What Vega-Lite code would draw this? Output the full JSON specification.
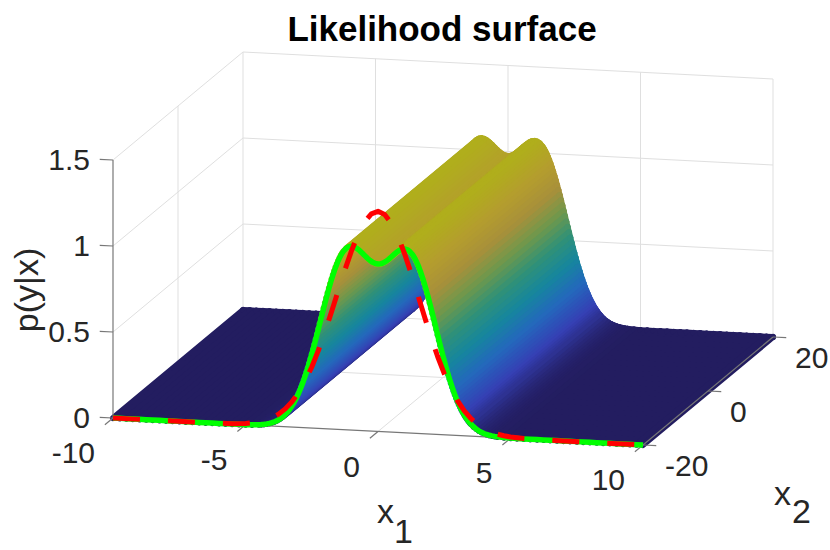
{
  "$schema": "https://vega.github.io/schema/vega-lite/v6.json",
  "width": 830,
  "height": 495,
  "padding": {"left": 0, "right": 0, "top": 55, "bottom": 0},
  "autosize": {"type": "none"},
  "title": {
    "text": "Likelihood surface",
    "font": "Liberation Sans",
    "fontSize": 35,
    "fontWeight": "bold",
    "color": "#000000",
    "anchor": "middle",
    "dx": 27,
    "offset": -24,
    "baseline": "alphabetic"
  },
  "config": {"view": {"stroke": null}, "text": {"font": "Liberation Sans", "color": "#262626"}},
  "datasets": {
    "surf": [
      {"x1": -10, "p": 0}, {"x1": -9.75, "p": 0}, {"x1": -9.5, "p": 0}, {"x1": -9.25, "p": 0},
      {"x1": -9, "p": 0}, {"x1": -8.75, "p": 0}, {"x1": -8.5, "p": 0}, {"x1": -8.25, "p": 0},
      {"x1": -8, "p": 0}, {"x1": -7.75, "p": 0}, {"x1": -7.5, "p": 0}, {"x1": -7.25, "p": 0},
      {"x1": -7, "p": 0}, {"x1": -6.75, "p": 0}, {"x1": -6.5, "p": 0}, {"x1": -6.25, "p": 0},
      {"x1": -6, "p": 0}, {"x1": -5.75, "p": 0}, {"x1": -5.5, "p": 0.0001}, {"x1": -5.25, "p": 0.0003},
      {"x1": -5, "p": 0.0007}, {"x1": -4.75, "p": 0.0018},
      {"x1": -4.5, "p": 0.0043}, {"x1": -4.4, "p": 0.006}, {"x1": -4.3, "p": 0.0082}, {"x1": -4.2, "p": 0.0111},
      {"x1": -4.1, "p": 0.0149}, {"x1": -4, "p": 0.0198}, {"x1": -3.9, "p": 0.0261}, {"x1": -3.8, "p": 0.0341},
      {"x1": -3.7, "p": 0.0439}, {"x1": -3.6, "p": 0.0561},
      {"x1": -3.5, "p": 0.071}, {"x1": -3.45, "p": 0.0796}, {"x1": -3.4, "p": 0.0889}, {"x1": -3.35, "p": 0.0992},
      {"x1": -3.3, "p": 0.1103}, {"x1": -3.25, "p": 0.1224}, {"x1": -3.2, "p": 0.1354}, {"x1": -3.15, "p": 0.1495},
      {"x1": -3.1, "p": 0.1646}, {"x1": -3.05, "p": 0.1808}, {"x1": -3, "p": 0.1981}, {"x1": -2.95, "p": 0.2165},
      {"x1": -2.9, "p": 0.236}, {"x1": -2.85, "p": 0.2566}, {"x1": -2.8, "p": 0.2784}, {"x1": -2.75, "p": 0.3012},
      {"x1": -2.7, "p": 0.3252}, {"x1": -2.65, "p": 0.3501}, {"x1": -2.6, "p": 0.376}, {"x1": -2.55, "p": 0.4029},
      {"x1": -2.5, "p": 0.4306}, {"x1": -2.45, "p": 0.4591}, {"x1": -2.4, "p": 0.4883}, {"x1": -2.35, "p": 0.518},
      {"x1": -2.3, "p": 0.5483}, {"x1": -2.25, "p": 0.5788}, {"x1": -2.2, "p": 0.6096}, {"x1": -2.15, "p": 0.6405},
      {"x1": -2.1, "p": 0.6713}, {"x1": -2.05, "p": 0.7019}, {"x1": -2, "p": 0.7321}, {"x1": -1.95, "p": 0.7618},
      {"x1": -1.9, "p": 0.7909}, {"x1": -1.85, "p": 0.8191}, {"x1": -1.8, "p": 0.8464}, {"x1": -1.75, "p": 0.8725},
      {"x1": -1.7, "p": 0.8974}, {"x1": -1.65, "p": 0.9209}, {"x1": -1.6, "p": 0.943}, {"x1": -1.55, "p": 0.9634},
      {"x1": -1.5, "p": 0.9821}, {"x1": -1.45, "p": 0.9991}, {"x1": -1.4, "p": 1.0143}, {"x1": -1.35, "p": 1.0275},
      {"x1": -1.3, "p": 1.039}, {"x1": -1.2, "p": 1.0561}, {"x1": -1.1, "p": 1.066}, {"x1": -1, "p": 1.0691},
      {"x1": -0.9, "p": 1.0663}, {"x1": -0.8, "p": 1.0585}, {"x1": -0.7, "p": 1.047}, {"x1": -0.6, "p": 1.0332},
      {"x1": -0.5, "p": 1.0185}, {"x1": -0.4, "p": 1.0042}, {"x1": -0.3, "p": 0.9916}, {"x1": -0.2, "p": 0.9818},
      {"x1": -0.1, "p": 0.9756}, {"x1": 0, "p": 0.9735},
      {"x1": 0.1, "p": 0.9756}, {"x1": 0.2, "p": 0.9818}, {"x1": 0.3, "p": 0.9916}, {"x1": 0.4, "p": 1.0042},
      {"x1": 0.5, "p": 1.0185}, {"x1": 0.6, "p": 1.0332}, {"x1": 0.7, "p": 1.047}, {"x1": 0.8, "p": 1.0585},
      {"x1": 0.9, "p": 1.0663}, {"x1": 1, "p": 1.0691}, {"x1": 1.1, "p": 1.066}, {"x1": 1.2, "p": 1.0561},
      {"x1": 1.3, "p": 1.039}, {"x1": 1.35, "p": 1.0275}, {"x1": 1.4, "p": 1.0143}, {"x1": 1.45, "p": 0.9991},
      {"x1": 1.5, "p": 0.9821}, {"x1": 1.55, "p": 0.9634}, {"x1": 1.6, "p": 0.943}, {"x1": 1.65, "p": 0.9209},
      {"x1": 1.7, "p": 0.8974}, {"x1": 1.75, "p": 0.8725}, {"x1": 1.8, "p": 0.8464}, {"x1": 1.85, "p": 0.8191},
      {"x1": 1.9, "p": 0.7909}, {"x1": 1.95, "p": 0.7618}, {"x1": 2, "p": 0.7321}, {"x1": 2.05, "p": 0.7019},
      {"x1": 2.1, "p": 0.6713}, {"x1": 2.15, "p": 0.6405}, {"x1": 2.2, "p": 0.6096}, {"x1": 2.25, "p": 0.5788},
      {"x1": 2.3, "p": 0.5483}, {"x1": 2.35, "p": 0.518}, {"x1": 2.4, "p": 0.4883}, {"x1": 2.45, "p": 0.4591},
      {"x1": 2.5, "p": 0.4306}, {"x1": 2.55, "p": 0.4029}, {"x1": 2.6, "p": 0.376}, {"x1": 2.65, "p": 0.3501},
      {"x1": 2.7, "p": 0.3252}, {"x1": 2.75, "p": 0.3012}, {"x1": 2.8, "p": 0.2784}, {"x1": 2.85, "p": 0.2566},
      {"x1": 2.9, "p": 0.236}, {"x1": 2.95, "p": 0.2165}, {"x1": 3, "p": 0.1981}, {"x1": 3.05, "p": 0.1808},
      {"x1": 3.1, "p": 0.1646}, {"x1": 3.15, "p": 0.1495}, {"x1": 3.2, "p": 0.1354}, {"x1": 3.25, "p": 0.1224},
      {"x1": 3.3, "p": 0.1103}, {"x1": 3.35, "p": 0.0992}, {"x1": 3.4, "p": 0.0889}, {"x1": 3.45, "p": 0.0796},
      {"x1": 3.5, "p": 0.071},
      {"x1": 3.6, "p": 0.0561}, {"x1": 3.7, "p": 0.0439}, {"x1": 3.8, "p": 0.0341}, {"x1": 3.9, "p": 0.0261},
      {"x1": 4, "p": 0.0198}, {"x1": 4.1, "p": 0.0149}, {"x1": 4.2, "p": 0.0111}, {"x1": 4.3, "p": 0.0082},
      {"x1": 4.4, "p": 0.006}, {"x1": 4.5, "p": 0.0043},
      {"x1": 4.75, "p": 0.0018}, {"x1": 5, "p": 0.0007}, {"x1": 5.25, "p": 0.0003}, {"x1": 5.5, "p": 0.0001},
      {"x1": 5.75, "p": 0}, {"x1": 6, "p": 0}, {"x1": 6.25, "p": 0}, {"x1": 6.5, "p": 0},
      {"x1": 6.75, "p": 0}, {"x1": 7, "p": 0}, {"x1": 7.25, "p": 0}, {"x1": 7.5, "p": 0},
      {"x1": 7.75, "p": 0}, {"x1": 8, "p": 0}, {"x1": 8.25, "p": 0}, {"x1": 8.5, "p": 0},
      {"x1": 8.75, "p": 0}, {"x1": 9, "p": 0}, {"x1": 9.25, "p": 0}, {"x1": 9.5, "p": 0},
      {"x1": 9.75, "p": 0}, {"x1": 10, "p": 0}
    ],
    "gauss": [
      {"x1": -10, "p": 0}, {"x1": -7, "p": 0}, {"x1": -6, "p": 0.0008}, {"x1": -5.5, "p": 0.0026},
      {"x1": -5, "p": 0.0076}, {"x1": -4.75, "p": 0.0126}, {"x1": -4.5, "p": 0.0202}, {"x1": -4.25, "p": 0.0316},
      {"x1": -4, "p": 0.0482}, {"x1": -3.75, "p": 0.0717}, {"x1": -3.5, "p": 0.104}, {"x1": -3.25, "p": 0.1469},
      {"x1": -3, "p": 0.2024}, {"x1": -2.75, "p": 0.2718}, {"x1": -2.5, "p": 0.3556}, {"x1": -2.25, "p": 0.4536},
      {"x1": -2, "p": 0.564}, {"x1": -1.75, "p": 0.6834}, {"x1": -1.5, "p": 0.8072}, {"x1": -1.25, "p": 0.9293},
      {"x1": -1, "p": 1.0428}, {"x1": -0.75, "p": 1.1406}, {"x1": -0.5, "p": 1.2161}, {"x1": -0.25, "p": 1.2637},
      {"x1": 0, "p": 1.28},
      {"x1": 0.25, "p": 1.2637}, {"x1": 0.5, "p": 1.2161}, {"x1": 0.75, "p": 1.1406}, {"x1": 1, "p": 1.0428},
      {"x1": 1.25, "p": 0.9293}, {"x1": 1.5, "p": 0.8072}, {"x1": 1.75, "p": 0.6834}, {"x1": 2, "p": 0.564},
      {"x1": 2.25, "p": 0.4536}, {"x1": 2.5, "p": 0.3556}, {"x1": 2.75, "p": 0.2718}, {"x1": 3, "p": 0.2024},
      {"x1": 3.25, "p": 0.1469}, {"x1": 3.5, "p": 0.104}, {"x1": 3.75, "p": 0.0717}, {"x1": 4, "p": 0.0482},
      {"x1": 4.25, "p": 0.0316}, {"x1": 4.5, "p": 0.0202}, {"x1": 4.75, "p": 0.0126}, {"x1": 5, "p": 0.0076},
      {"x1": 5.5, "p": 0.0026}, {"x1": 6, "p": 0.0008}, {"x1": 7, "p": 0}, {"x1": 10, "p": 0}
    ],
    "grid": [
      {"a1": -10, "a2": 20, "az": 0, "b1": -10, "b2": 20, "bz": 1.5},
      {"a1": -5, "a2": 20, "az": 0, "b1": -5, "b2": 20, "bz": 1.5},
      {"a1": 0, "a2": 20, "az": 0, "b1": 0, "b2": 20, "bz": 1.5},
      {"a1": 5, "a2": 20, "az": 0, "b1": 5, "b2": 20, "bz": 1.5},
      {"a1": 10, "a2": 20, "az": 0, "b1": 10, "b2": 20, "bz": 1.5},
      {"a1": -10, "a2": 20, "az": 0.5, "b1": 10, "b2": 20, "bz": 0.5},
      {"a1": -10, "a2": 20, "az": 1, "b1": 10, "b2": 20, "bz": 1},
      {"a1": -10, "a2": 20, "az": 1.5, "b1": 10, "b2": 20, "bz": 1.5},
      {"a1": -10, "a2": 0, "az": 0, "b1": -10, "b2": 0, "bz": 1.5},
      {"a1": -10, "a2": -20, "az": 0.5, "b1": -10, "b2": 20, "bz": 0.5},
      {"a1": -10, "a2": -20, "az": 1, "b1": -10, "b2": 20, "bz": 1},
      {"a1": -10, "a2": -20, "az": 1.5, "b1": -10, "b2": 20, "bz": 1.5},
      {"a1": -10, "a2": -20, "az": 0, "b1": -10, "b2": 20, "bz": 0},
      {"a1": -5, "a2": -20, "az": 0, "b1": -5, "b2": 20, "bz": 0},
      {"a1": 0, "a2": -20, "az": 0, "b1": 0, "b2": 20, "bz": 0},
      {"a1": 5, "a2": -20, "az": 0, "b1": 5, "b2": 20, "bz": 0},
      {"a1": -10, "a2": 0, "az": 0, "b1": 10, "b2": 0, "bz": 0},
      {"a1": -10, "a2": 20, "az": 0, "b1": 10, "b2": 20, "bz": 0}
    ],
    "axes": [
      {"a1": -10, "a2": -20, "az": 0, "b1": 10, "b2": -20, "bz": 0},
      {"a1": 10, "a2": -20, "az": 0, "b1": 10, "b2": 20, "bz": 0},
      {"a1": -10, "a2": -20, "az": 0, "b1": -10, "b2": -20, "bz": 1.5},
      {"a1": -10, "a2": -20, "az": 0, "b1": -10, "b2": -22.5, "bz": 0},
      {"a1": -5, "a2": -20, "az": 0, "b1": -5, "b2": -22.5, "bz": 0},
      {"a1": 0, "a2": -20, "az": 0, "b1": 0, "b2": -22.5, "bz": 0},
      {"a1": 5, "a2": -20, "az": 0, "b1": 5, "b2": -22.5, "bz": 0},
      {"a1": 10, "a2": -20, "az": 0, "b1": 10, "b2": -22.5, "bz": 0},
      {"a1": 10, "a2": -20, "az": 0, "b1": 10.5, "b2": -20, "bz": 0},
      {"a1": 10, "a2": 0, "az": 0, "b1": 10.5, "b2": 0, "bz": 0},
      {"a1": 10, "a2": 20, "az": 0, "b1": 10.5, "b2": 20, "bz": 0},
      {"a1": -10, "a2": -20, "az": 0, "b1": -10.5, "b2": -20, "bz": 0},
      {"a1": -10, "a2": -20, "az": 0.5, "b1": -10.5, "b2": -20, "bz": 0.5},
      {"a1": -10, "a2": -20, "az": 1, "b1": -10.5, "b2": -20, "bz": 1},
      {"a1": -10, "a2": -20, "az": 1.5, "b1": -10.5, "b2": -20, "bz": 1.5}
    ]
  },
  "encoding": {
    "x": {"field": "u", "type": "quantitative", "scale": {"domain": [0, 830], "nice": false, "zero": false}, "axis": null},
    "y": {"field": "v", "type": "quantitative", "scale": {"domain": [55, 550], "reverse": true, "nice": false, "zero": false}, "axis": null}
  },
  "layer": [
    {
      "data": {"name": "grid"},
      "transform": [
        {"calculate": "443 + 26.5*datum.a1 + 3.25*datum.a2", "as": "u"},
        {"calculate": "377.5 + 1.35*datum.a1 - 2.7*datum.a2 - 172*datum.az", "as": "v"},
        {"calculate": "443 + 26.5*datum.b1 + 3.25*datum.b2", "as": "u2"},
        {"calculate": "377.5 + 1.35*datum.b1 - 2.7*datum.b2 - 172*datum.bz", "as": "v2"}
      ],
      "mark": {"type": "rule", "color": "#dfdfdf", "strokeWidth": 1},
      "encoding": {"x2": {"field": "u2"}, "y2": {"field": "v2"}}
    },
    {
      "data": {"name": "surf"},
      "transform": [
        {"window": [{"op": "lead", "field": "x1", "as": "nx1"}, {"op": "lead", "field": "p", "as": "np"}]},
        {"calculate": "0", "as": "s"},
        {"calculate": "1", "as": "b"},
        {"fold": ["s", "b"]},
        {"filter": "datum.key == 's' || isValid(datum.nx1)"},
        {"calculate": "datum.key == 's' ? 443 + 26.5*datum.x1 + 3.25*(-20) : 443 + 26.5*datum.x1 + 3.25*20", "as": "u"},
        {"calculate": "datum.key == 's' ? 377.5 + 1.35*datum.x1 - 2.7*(-20) - 172*datum.p : 377.5 + 1.35*datum.x1 - 2.7*20 - 172*datum.p", "as": "v"},
        {"calculate": "datum.key == 's' ? 443 + 26.5*datum.x1 + 3.25*20 : 443 + 26.5*datum.nx1 + 3.25*20", "as": "u2"},
        {"calculate": "datum.key == 's' ? 377.5 + 1.35*datum.x1 - 2.7*20 - 172*datum.p : 377.5 + 1.35*datum.nx1 - 2.7*20 - 172*datum.np", "as": "v2"}
      ],
      "mark": {"type": "rule", "strokeWidth": 6, "strokeCap": "round"},
      "encoding": {
        "x2": {"field": "u2"},
        "y2": {"field": "v2"},
        "color": {
          "field": "p",
          "type": "quantitative",
          "legend": null,
          "scale": {
            "domain": [0, 0.119, 0.254, 0.39, 0.526, 0.662, 0.798, 0.933, 1.069],
            "range": ["#231d60", "#3540b4", "#2468bc", "#16869e", "#2f9178", "#6e984c", "#a8903a", "#b49d2e", "#b0ae1c"],
            "interpolate": "rgb"
          }
        }
      }
    },
    {
      "data": {"name": "axes"},
      "transform": [
        {"calculate": "443 + 26.5*datum.a1 + 3.25*datum.a2", "as": "u"},
        {"calculate": "377.5 + 1.35*datum.a1 - 2.7*datum.a2 - 172*datum.az", "as": "v"},
        {"calculate": "443 + 26.5*datum.b1 + 3.25*datum.b2", "as": "u2"},
        {"calculate": "377.5 + 1.35*datum.b1 - 2.7*datum.b2 - 172*datum.bz", "as": "v2"}
      ],
      "mark": {"type": "rule", "color": "#777777", "strokeWidth": 1.2},
      "encoding": {"x2": {"field": "u2"}, "y2": {"field": "v2"}}
    },
    {
      "data": {"name": "surf"},
      "transform": [
        {"calculate": "443 + 26.5*datum.x1 + 3.25*(-20)", "as": "u"},
        {"calculate": "377.5 + 1.35*datum.x1 - 2.7*(-20) - 172*datum.p", "as": "v"}
      ],
      "mark": {"type": "line", "color": "#00ff00", "strokeWidth": 5.5, "strokeJoin": "round"},
      "encoding": {}
    },
    {
      "data": {"name": "gauss"},
      "transform": [
        {"calculate": "443 + 26.5*datum.x1 + 3.25*(-20)", "as": "u"},
        {"calculate": "377.5 + 1.35*datum.x1 - 2.7*(-20) - 172*datum.p", "as": "v"}
      ],
      "mark": {"type": "line", "color": "#ff0000", "strokeWidth": 5, "strokeDash": [27, 28], "strokeJoin": "round"},
      "encoding": {}
    },
    {
      "data": {"values": [
        {"x1": -10, "x2": -20, "z": 0, "label": "0"},
        {"x1": -10, "x2": -20, "z": 0.5, "label": "0.5"},
        {"x1": -10, "x2": -20, "z": 1, "label": "1"},
        {"x1": -10, "x2": -20, "z": 1.5, "label": "1.5"}
      ]},
      "transform": [
        {"calculate": "443 + 26.5*datum.x1 + 3.25*datum.x2", "as": "u"},
        {"calculate": "377.5 + 1.35*datum.x1 - 2.7*datum.x2 - 172*datum.z", "as": "v"}
      ],
      "mark": {"type": "text", "align": "right", "baseline": "middle", "dx": -23, "dy": 1, "fontSize": 30},
      "encoding": {"text": {"field": "label"}}
    },
    {
      "data": {"values": [
        {"x1": -10, "x2": -20, "z": 0, "label": "-10"},
        {"x1": -5, "x2": -20, "z": 0, "label": "-5"},
        {"x1": 0, "x2": -20, "z": 0, "label": "0"},
        {"x1": 5, "x2": -20, "z": 0, "label": "5"},
        {"x1": 10, "x2": -20, "z": 0, "label": "10"}
      ]},
      "transform": [
        {"calculate": "443 + 26.5*datum.x1 + 3.25*datum.x2", "as": "u"},
        {"calculate": "377.5 + 1.35*datum.x1 - 2.7*datum.x2 - 172*datum.z", "as": "v"}
      ],
      "mark": {"type": "text", "align": "right", "baseline": "middle", "dx": -18, "dy": 36, "fontSize": 30},
      "encoding": {"text": {"field": "label"}}
    },
    {
      "data": {"values": [
        {"x1": 10, "x2": -20, "z": 0, "label": "-20"},
        {"x1": 10, "x2": 0, "z": 0, "label": "0"},
        {"x1": 10, "x2": 20, "z": 0, "label": "20"}
      ]},
      "transform": [
        {"calculate": "443 + 26.5*datum.x1 + 3.25*datum.x2", "as": "u"},
        {"calculate": "377.5 + 1.35*datum.x1 - 2.7*datum.x2 - 172*datum.z", "as": "v"}
      ],
      "mark": {"type": "text", "align": "left", "baseline": "middle", "dx": 22, "dy": 22, "fontSize": 30},
      "encoding": {"text": {"field": "label"}}
    },
    {
      "data": {"values": [{"x1": 0, "x2": -20, "z": 0, "label": "x"}]},
      "transform": [
        {"calculate": "443 + 26.5*datum.x1 + 3.25*datum.x2", "as": "u"},
        {"calculate": "377.5 + 1.35*datum.x1 - 2.7*datum.x2 - 172*datum.z", "as": "v"}
      ],
      "mark": {"type": "text", "align": "left", "baseline": "alphabetic", "dx": -1, "dy": 91, "fontSize": 34},
      "encoding": {"text": {"field": "label"}}
    },
    {
      "data": {"values": [{"x1": 0, "x2": -20, "z": 0, "label": "1"}]},
      "transform": [
        {"calculate": "443 + 26.5*datum.x1 + 3.25*datum.x2", "as": "u"},
        {"calculate": "377.5 + 1.35*datum.x1 - 2.7*datum.x2 - 172*datum.z", "as": "v"}
      ],
      "mark": {"type": "text", "align": "left", "baseline": "alphabetic", "dx": 16, "dy": 111, "fontSize": 34},
      "encoding": {"text": {"field": "label"}}
    },
    {
      "data": {"values": [{"x1": 10, "x2": 0, "z": 0, "label": "x"}]},
      "transform": [
        {"calculate": "443 + 26.5*datum.x1 + 3.25*datum.x2", "as": "u"},
        {"calculate": "377.5 + 1.35*datum.x1 - 2.7*datum.x2 - 172*datum.z", "as": "v"}
      ],
      "mark": {"type": "text", "align": "left", "baseline": "alphabetic", "dx": 66, "dy": 114, "fontSize": 34},
      "encoding": {"text": {"field": "label"}}
    },
    {
      "data": {"values": [{"x1": 10, "x2": 0, "z": 0, "label": "2"}]},
      "transform": [
        {"calculate": "443 + 26.5*datum.x1 + 3.25*datum.x2", "as": "u"},
        {"calculate": "377.5 + 1.35*datum.x1 - 2.7*datum.x2 - 172*datum.z", "as": "v"}
      ],
      "mark": {"type": "text", "align": "left", "baseline": "alphabetic", "dx": 84, "dy": 132, "fontSize": 34},
      "encoding": {"text": {"field": "label"}}
    },
    {
      "data": {"values": [{"x1": -10, "x2": -20, "z": 0.75, "label": "p(y|x)"}]},
      "transform": [
        {"calculate": "443 + 26.5*datum.x1 + 3.25*datum.x2", "as": "u"},
        {"calculate": "377.5 + 1.35*datum.x1 - 2.7*datum.x2 - 172*datum.z", "as": "v"}
      ],
      "mark": {"type": "text", "align": "center", "baseline": "middle", "angle": 270, "dx": -1, "dy": -85, "fontSize": 34},
      "encoding": {"text": {"field": "label"}}
    }
  ]
}
